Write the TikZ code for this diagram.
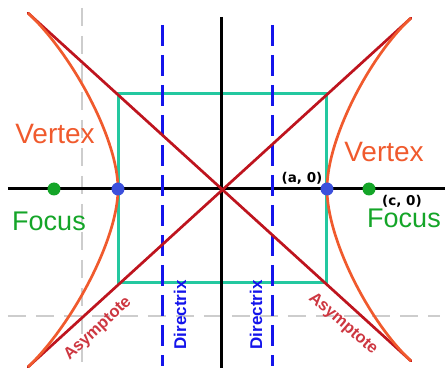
\documentclass[tikz,border=0pt]{standalone}
\usepackage{fontspec}
\setmainfont{Liberation Sans}
\newfontfamily\coordfont{DejaVu Sans}
\definecolor{hypred}{RGB}{240,90,45}
\definecolor{asymred}{RGB}{190,20,30}
\definecolor{asymtxt}{RGB}{205,55,65}
\definecolor{boxteal}{RGB}{35,200,160}
\definecolor{dirblue}{RGB}{20,20,235}
\definecolor{guidegray}{RGB}{205,205,205}
\definecolor{focgreen}{RGB}{20,165,40}
\definecolor{vtxblue}{RGB}{60,80,220}
\usetikzlibrary{positioning}

\begin{document}
\begin{tikzpicture}[x=1pt,y=1pt,
  axisline/.style={draw=black, line width=3pt},
  guideline/.style={draw=guidegray, line width=2.8pt, dash pattern=on 18pt off 10pt},
  dirline/.style={draw=dirblue, line width=3pt, dash pattern=on 21pt off 9pt},
  boxline/.style={draw=boxteal, line width=3pt},
  asymline/.style={draw=asymred, line width=2.7pt, line cap=round},
  hypline/.style={draw=hypred, line width=2.7pt},
  vdot/.style={circle, fill=vtxblue, inner sep=0pt, minimum size=13pt},
  fdot/.style={circle, fill=focgreen, inner sep=0pt, minimum size=13pt},
  vlbl/.style={font=\fontsize{28}{30}\selectfont, text=hypred},
  flbl/.style={font=\fontsize{27}{29}\selectfont, text=focgreen},
  clbl/.style={font=\coordfont\bfseries\fontsize{13.5}{15}\selectfont, text=black},
  dlbl/.style={font=\bfseries\fontsize{17}{19}\selectfont, text=dirblue, rotate=90},
  albl/.style={font=\bfseries\fontsize{16.5}{18}\selectfont, text=asymtxt}
]
  \useasboundingbox (-222,-183) rectangle (223,189);

  %% Guide lines
  \coordinate (gvtop) at (-140,181);
  \coordinate (gvbot) at (-140,-183);
  \coordinate (ghlft) at (-214,-127);
  \coordinate (ghrgt) at (218,-127);
  \draw[guideline] (gvtop) -- (gvbot);
  \draw[guideline] (ghlft) -- (ghrgt);

  %% Box a x b
  \coordinate (boxsw) at (-103,-94);
  \coordinate (boxne) at (105,95);
  \draw[boxline] (boxsw) rectangle (boxne);

  %% Axes
  \coordinate (xlft) at (-214,0);
  \coordinate (xrgt) at (223,0);
  \coordinate (ytop) at (0,172);
  \coordinate (ybot) at (0,-179);
  \draw[axisline] (xlft) -- (xrgt);
  \draw[axisline] (ytop) -- (ybot);

  %% Directrices
  \coordinate (d1top) at (-59,164);
  \coordinate (d1bot) at (-59,-177);
  \coordinate (d2top) at (51,164);
  \coordinate (d2bot) at (51,-177);
  \draw[dirline] (d1top) -- (d1bot);
  \draw[dirline] (d2top) -- (d2bot);

  %% Asymptotes
  \coordinate (a1tl) at (-194,176);
  \coordinate (a1br) at (189,-172);
  \coordinate (a2tr) at (189,171);
  \coordinate (a2bl) at (-194,-178);
  \draw[asymline] (a1tl) -- (a1br);
  \draw[asymline] (a2tr) -- (a2bl);

  %% Branches
  \coordinate (vl) at (-104,0);
  \coordinate (vr) at (105,0);
  \coordinate (hltop) at (-194,176);
  \coordinate (hlbot) at (-194,-178);
  \coordinate (hrtop) at (189,171);
  \coordinate (hrbot) at (189,-172);
  \draw[hypline] (hltop) .. controls (-150,135) and (-104,50) .. (vl)
                         .. controls (-104,-50) and (-150,-136) .. (hlbot);
  \draw[hypline] (hrtop) .. controls (147,132) and (105,50) .. (vr)
                         .. controls (105,-50) and (147,-133) .. (hrbot);

  %% Vertices and foci
  \node[vdot] (vleft)  at (vl) {};
  \node[vdot] (vright) at (vr) {};
  \node[fdot] (fleft)  at (-168,0) {};
  \node[fdot] (fright) at (147,0) {};

  %% Labels
  \node[vlbl] (vtxl) at (-167,55) {Vertex};
  \node[vlbl] (vtxr) at (162,37) {Vertex};
  \node[flbl] (focl) at (-173,-32) {Focus};
  \node[flbl] (focr) at (182,-29) {Focus};
  \node[clbl] (aco)  at (80,11) {(a, 0)};
  \node[clbl] (cco)  at (180,-12) {(c, 0)};
  \node[dlbl] (dirl) at (-42,-126) {Directrix};
  \node[dlbl] (dirr) at (34,-126) {Directrix};
  \node[albl, rotate=43]  (asl) at (-124,-140) {Asymptote};
  \node[albl, rotate=-41] (asr) at (121,-135) {Asymptote};
\end{tikzpicture}
\end{document}
